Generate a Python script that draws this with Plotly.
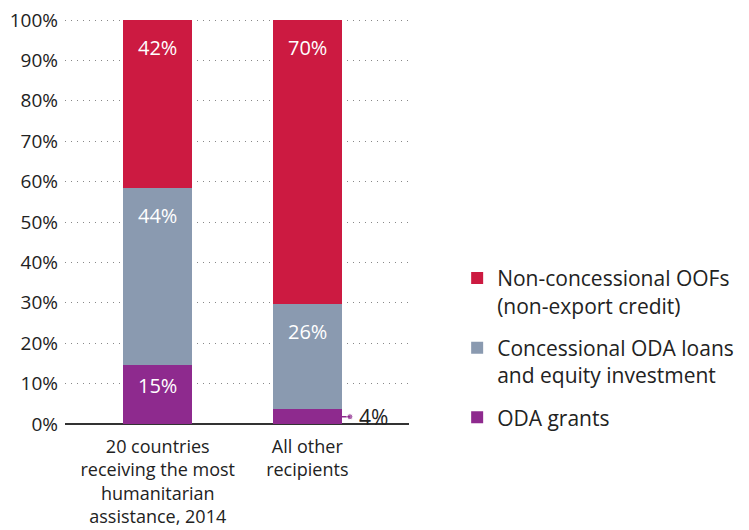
import plotly.graph_objects as go

categories = ["20 countries<br>receiving the most<br>humanitarian<br>assistance, 2014", "All other<br>recipients"]
series_names = ["ODA grants", "Concessional ODA loans<br>and equity investment", "Non-concessional OOFs<br>(non-export credit)"]
oda_grants = [14.7, 3.6]
concessional_loans = [43.6, 26.0]
non_concessional = [41.7, 70.4]
y_ticks = [0, 10, 20, 30, 40, 50, 60, 70, 80, 90, 100]
y_tick_labels = [f"{t}%" for t in y_ticks]

colors = ["#8e2a8e", "#8a9ab0", "#cc1a41"]
FONT = "Open Sans"
x_pos = list(range(len(categories)))
BAR_W = 0.46

series = [oda_grants, concessional_loans, non_concessional]

fig = go.Figure()
for k, (name, vals, col) in enumerate(zip(series_names, series, colors)):
    fig.add_trace(go.Bar(x=x_pos, y=vals, name=name, legendgroup=f"g{k}", legendrank=10 - k,
                         marker=dict(color=col, line=dict(width=0)),
                         width=BAR_W, hoverinfo="skip"))

# labels
for i in x_pos:
    base = 0
    for vals, col in zip(series, colors):
        v = vals[i]
        top = base + v
        if v >= 8:
            off = min(6.7, 0.36 * v)
            fig.add_annotation(x=i, y=top - off, text=f"{round(v):d}%", showarrow=False,
                               font=dict(family=FONT, size=20, color="white"), yanchor="middle")
        else:
            xs = [i + BAR_W / 2, i + BAR_W / 2 + 0.055]
            ys = [base + v / 2, base + v / 2]
            fig.add_trace(go.Scatter(x=xs, y=ys, mode="lines+markers", showlegend=False,
                                     line=dict(color=col, width=1.5),
                                     marker=dict(size=[0, 6], color=col), hoverinfo="skip"))
            fig.add_annotation(x=xs[1], y=ys[1], text=f"{round(v):d}%", showarrow=False, xanchor="left",
                               xshift=7, font=dict(family=FONT, size=21, color="#222"), yanchor="middle")
        base = top

# page body has an 8px default margin; margins compensate so the plot lands where the reference has it
fig.update_layout(
    barmode="stack",
    width=749, height=530,
    margin=dict(l=57, r=348, t=11, b=114),
    paper_bgcolor="white", plot_bgcolor="white",
    font=dict(family=FONT, color="#222"),
    legend=dict(x=1.14, y=0.41, xanchor="left", yanchor="top", traceorder="grouped",
                tracegroupgap=12, valign="top", font=dict(family=FONT, size=21, color="#222"),
                itemclick=False),
    xaxis=dict(range=[-0.62, 1.68], tickvals=x_pos, ticktext=categories, showgrid=False, automargin=False,
               zeroline=False, showline=False, ticks="", ticklabelstandoff=10,
               tickfont=dict(family=FONT, size=18, color="#222")),
    yaxis=dict(range=[0, 100.25], tickvals=y_ticks, ticktext=y_tick_labels, showgrid=True, gridcolor="#888",
               griddash="1px,5px", gridwidth=1, zeroline=True, zerolinecolor="#333", zerolinewidth=2,
               automargin=False, ticks="", ticklabelstandoff=6, ticklabeloverflow="allow",
               tickfont=dict(family=FONT, size=19, color="#222")),
)

fig.write_html("out.html")
